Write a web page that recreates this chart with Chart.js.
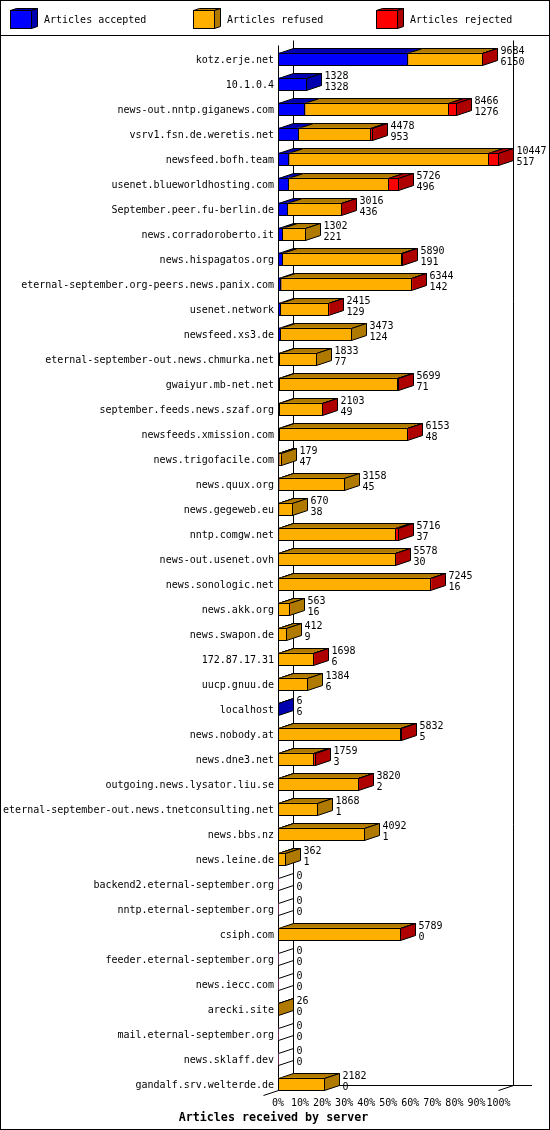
<!DOCTYPE html>
<html>
<head>
<meta charset="utf-8">
<title>Articles received by server</title>
<script src="https://cdn.jsdelivr.net/npm/chart.js@4/dist/chart.umd.min.js"></script>
<style>
    html, body { margin: 0; padding: 0; background: #fff; }
    canvas { display: block; }
</style>
</head>
<body>
<canvas id="chart" width="550" height="1130"></canvas>
<script>
const categories = [
    "kotz.erje.net", "10.1.0.4", "news-out.nntp.giganews.com", "vsrv1.fsn.de.weretis.net",
    "newsfeed.bofh.team", "usenet.blueworldhosting.com", "September.peer.fu-berlin.de",
    "news.corradoroberto.it", "news.hispagatos.org", "eternal-september.org-peers.news.panix.com",
    "usenet.network", "newsfeed.xs3.de", "eternal-september-out.news.chmurka.net",
    "gwaiyur.mb-net.net", "september.feeds.news.szaf.org", "newsfeeds.xmission.com",
    "news.trigofacile.com", "news.quux.org", "news.gegeweb.eu", "nntp.comgw.net",
    "news-out.usenet.ovh", "news.sonologic.net", "news.akk.org", "news.swapon.de",
    "172.87.17.31", "uucp.gnuu.de", "localhost", "news.nobody.at", "news.dne3.net",
    "outgoing.news.lysator.liu.se", "eternal-september-out.news.tnetconsulting.net",
    "news.bbs.nz", "news.leine.de", "backend2.eternal-september.org",
    "nntp.eternal-september.org", "csiph.com", "feeder.eternal-september.org",
    "news.iecc.com", "arecki.site", "mail.eternal-september.org", "news.sklaff.dev",
    "gandalf.srv.welterde.de"
];

// printed next to each bar: total on the first line, accepted on the second
const totals = [
    9684, 1328, 8466, 4478, 10447, 5726, 3016, 1302, 5890, 6344, 2415, 3473, 1833, 5699,
    2103, 6153, 179, 3158, 670, 5716, 5578, 7245, 563, 412, 1698, 1384, 6, 5832, 1759,
    3820, 1868, 4092, 362, 0, 0, 5789, 0, 0, 26, 0, 0, 2182
];
const accepted = [
    6150, 1328, 1276, 953, 517, 496, 436, 221, 191, 142, 129, 124, 77, 71,
    49, 48, 47, 45, 38, 37, 30, 16, 16, 9, 6, 6, 6, 5, 3,
    2, 1, 1, 1, 0, 0, 0, 0, 0, 0, 0, 0, 0
];
const refused = [
    3526, 0, 6810, 3415, 9440, 4740, 2572, 1081, 5659, 6197, 2281, 3349, 1756, 5598,
    2049, 6100, 132, 3113, 632, 5529, 5540, 7224, 547, 403, 1687, 1378, 0, 5822, 1696,
    3813, 1867, 4091, 361, 0, 0, 5784, 0, 0, 26, 0, 0, 2182
];
const rejected = [
    8, 0, 380, 110, 490, 490, 8, 0, 40, 5, 5, 0, 0, 30,
    5, 5, 0, 0, 0, 150, 8, 5, 0, 0, 5, 0, 0, 5, 60,
    5, 0, 0, 0, 0, 0, 5, 0, 0, 0, 0, 0, 0
];
const percentTicks = ["0%", "10%", "20%", "30%", "40%", "50%", "60%", "70%", "80%", "90%", "100%"];
const axisTitle = "Articles received by server";

const frontColors = ["#0000ff", "#ffaf00", "#ff0000"];
const darkColors = ["#0000af", "#b07a00", "#af0000"];
const legendX = [10, 193, 376];

const monoFont = '"DejaVu Sans Mono", monospace';
const depthX = 15;
const depthY = 5;
const halfBar = 6;

function crisp(v) {
    return Math.floor(v) + 0.5;
}

function poly(ctx, points, fill) {
    ctx.beginPath();
    points.forEach(function (p, i) {
        if (i === 0) ctx.moveTo(p[0], p[1]);
        else ctx.lineTo(p[0], p[1]);
    });
    ctx.closePath();
    if (fill) {
        ctx.fillStyle = fill;
        ctx.fill();
    }
    ctx.stroke();
}

function line(ctx, x0, y0, x1, y1) {
    ctx.beginPath();
    ctx.moveTo(x0, y0);
    ctx.lineTo(x1, y1);
    ctx.stroke();
}

// the 3d look: frame, legend, back wall, then top and side faces behind the bars
const boxPlugin = {
    id: "box3d",
    beforeDraw(chart) {
        const ctx = chart.ctx;
        ctx.save();
        ctx.fillStyle = "#fff";
        ctx.fillRect(0, 0, chart.width, chart.height);
        ctx.strokeStyle = "#000";
        ctx.lineWidth = 1;
        ctx.strokeRect(0.5, 0.5, chart.width - 1, chart.height - 1);
        line(ctx, 0, 35.5, chart.width, 35.5);

        // legend cubes
        chart.data.datasets.forEach(function (ds, i) {
            const x = legendX[i] + 0.5;
            poly(ctx, [[x, 10.5], [x + 21, 10.5], [x + 27, 8.5], [x + 6, 8.5]], darkColors[i]);
            poly(ctx, [[x + 21, 10.5], [x + 27, 8.5], [x + 27, 26.5], [x + 21, 28.5]], darkColors[i]);
            ctx.fillStyle = frontColors[i];
            ctx.fillRect(x, 10.5, 21, 18);
            ctx.strokeRect(x, 10.5, 21, 18);
            ctx.fillStyle = "#000";
            ctx.font = "10px " + monoFont;
            ctx.textAlign = "left";
            ctx.textBaseline = "middle";
            ctx.fillText(ds.label, x + 33.5, 20);
        });

        // axis title
        ctx.font = "bold 11.67px " + monoFont;
        ctx.textAlign = "center";
        ctx.fillText(axisTitle, 273.5, 1118);
        ctx.restore();
    },
    beforeDatasetsDraw(chart) {
        const ctx = chart.ctx;
        const xs = chart.scales.x;
        const ys = chart.scales.y;
        const left = crisp(xs.left);
        const right = crisp(xs.right);
        const floorY = crisp(ys.getPixelForValue(categories.length - 1) + halfBar - depthY);
        const topY = crisp(ys.getPixelForValue(0) - 19);

        ctx.save();
        ctx.strokeStyle = "#000";
        ctx.lineWidth = 1;
        line(ctx, left, topY + depthY, left, floorY + depthY);
        line(ctx, left + depthX, topY, left + depthX, floorY);
        line(ctx, right + depthX, topY, right + depthX, floorY);
        line(ctx, left + depthX, floorY, 532, floorY);
        line(ctx, left + depthX, floorY, left - depthX, floorY + 2 * depthY);
        line(ctx, right + depthX, floorY, right, floorY + depthY);

        categories.forEach(function (name, i) {
            const y = crisp(ys.getPixelForValue(i));
            const y0 = y - halfBar;
            const y1 = y + halfBar;

            // empty row: only the outline of a flat box
            if (totals[i] === 0) {
                line(ctx, left, y0, left + depthX, y0 - depthY);
                line(ctx, left, y1, left + depthX, y1 - depthY);
                return;
            }

            let last = null;
            chart.data.datasets.forEach(function (ds, d) {
                if (ds.data[i] <= 0) return;
                const el = chart.getDatasetMeta(d).data[i];
                const x0 = crisp(el.base);
                const x1 = crisp(el.x);
                poly(ctx, [[x0, y0], [x1, y0], [x1 + depthX, y0 - depthY], [x0 + depthX, y0 - depthY]], darkColors[d]);
                last = { x: x1, color: darkColors[d] };
            });
            poly(ctx, [[last.x, y0], [last.x + depthX, y0 - depthY], [last.x + depthX, y1 - depthY], [last.x, y1]], last.color);
        });
        ctx.restore();
    },
    afterDatasetsDraw(chart) {
        const ctx = chart.ctx;
        const ys = chart.scales.y;
        const xs = chart.scales.x;
        ctx.save();
        ctx.strokeStyle = "#000";
        ctx.lineWidth = 1;
        ctx.fillStyle = "#000";
        ctx.font = "10px " + monoFont;
        ctx.textAlign = "left";
        ctx.textBaseline = "middle";

        categories.forEach(function (name, i) {
            const y = crisp(ys.getPixelForValue(i));
            chart.data.datasets.forEach(function (ds, d) {
                if (ds.data[i] <= 0) return;
                const el = chart.getDatasetMeta(d).data[i];
                const x0 = crisp(el.base);
                const x1 = crisp(el.x);
                ctx.strokeRect(x0, y - halfBar, x1 - x0, 2 * halfBar);
            });
            const labelX = crisp(xs.getPixelForValue(totals[i])) + depthX + 3;
            ctx.fillText(String(totals[i]), labelX, y - 8);
            ctx.fillText(String(accepted[i]), labelX, y + 3);
        });
        ctx.restore();
    }
};

Chart.defaults.font.family = monoFont;
Chart.defaults.font.size = 10;
Chart.defaults.color = "#000";

new Chart(document.getElementById("chart").getContext("2d"), {
    type: "bar",
    data: {
        labels: categories,
        datasets: [
            { label: "Articles accepted", data: accepted, backgroundColor: frontColors[0], barThickness: 12 },
            { label: "Articles refused", data: refused, backgroundColor: frontColors[1], barThickness: 12 },
            { label: "Articles rejected", data: rejected, backgroundColor: frontColors[2], barThickness: 12 }
        ]
    },
    plugins: [boxPlugin],
    options: {
        indexAxis: "y",
        responsive: false,
        animation: false,
        layout: { padding: { left: 0, right: 51.5, top: 46.5, bottom: 20.5 } },
        plugins: {
            legend: { display: false },
            tooltip: { enabled: false }
        },
        scales: {
            x: {
                stacked: true,
                min: 0,
                max: Math.max.apply(null, totals),
                grid: { display: false, drawTicks: false },
                border: { display: false },
                afterBuildTicks: function (scale) {
                    scale.ticks = percentTicks.map(function (t, i) {
                        return { value: scale.max * i / 10 };
                    });
                },
                afterFit: function (scale) { scale.height = 13; },
                ticks: {
                    autoSkip: false,
                    maxRotation: 0,
                    minRotation: 0,
                    padding: 1,
                    callback: function (value, index) { return percentTicks[index]; }
                }
            },
            y: {
                stacked: true,
                grid: { display: false, drawTicks: false },
                border: { display: false },
                afterFit: function (scale) { scale.width = 278; },
                ticks: { autoSkip: false, padding: 4, labelOffset: 1 }
            }
        }
    }
});
</script>
</body>
</html>
